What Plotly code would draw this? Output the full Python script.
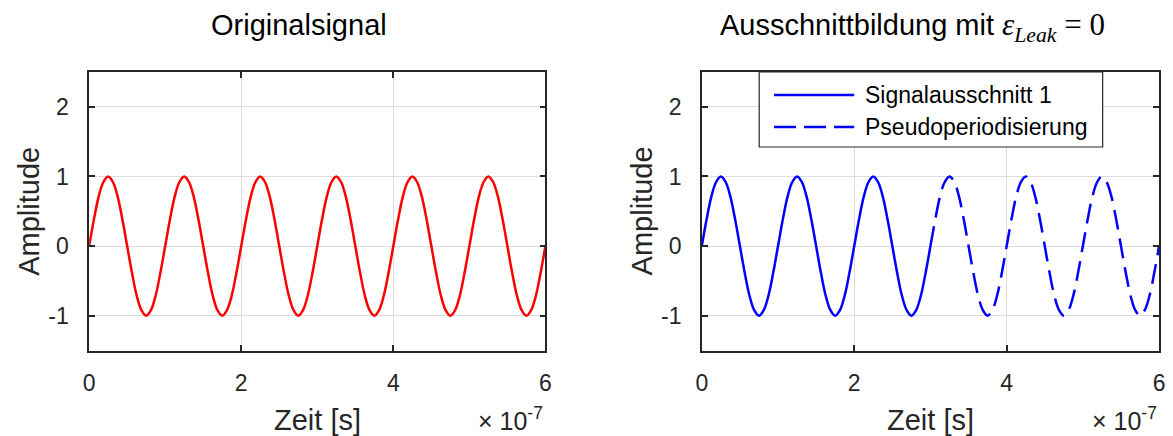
import plotly.graph_objects as go

# Sample grid: 16 samples per period, period = 1e-7 s, 6 periods (time in units of 1e-7 s)
SAMPLE_STEP_E7 = 0.0625
N_SAMPLES = 97
time_e7 = [i * SAMPLE_STEP_E7 for i in range(N_SAMPLES)]

amplitude = [
    0, 0.38, 0.71, 0.92, 1, 0.92, 0.71, 0.38, 0, -0.38, -0.71, -0.92, -1, -0.92, -0.71, -0.38,
    0, 0.38, 0.71, 0.92, 1, 0.92, 0.71, 0.38, 0, -0.38, -0.71, -0.92, -1, -0.92, -0.71, -0.38,
    0, 0.38, 0.71, 0.92, 1, 0.92, 0.71, 0.38, 0, -0.38, -0.71, -0.92, -1, -0.92, -0.71, -0.38,
    0, 0.38, 0.71, 0.92, 1, 0.92, 0.71, 0.38, 0, -0.38, -0.71, -0.92, -1, -0.92, -0.71, -0.38,
    0, 0.38, 0.71, 0.92, 1, 0.92, 0.71, 0.38, 0, -0.38, -0.71, -0.92, -1, -0.92, -0.71, -0.38,
    0, 0.38, 0.71, 0.92, 1, 0.92, 0.71, 0.38, 0, -0.38, -0.71, -0.92, -1, -0.92, -0.71, -0.38,
    0,
]

CUT_INDEX = 48  # sample at t = 3e-7 s, end of the signal window

time_s = [t * 1e-7 for t in time_e7]

x_tickvals = [0, 2e-7, 4e-7, 6e-7]
x_ticktext = ["0", "2", "4", "6"]
y_tickvals = [-1, 0, 1, 2]
y_ticktext = ["-1", "0", "1", "2"]

legend_names = ["Signalausschnitt 1", "Pseudoperiodisierung"]

W, H = 1173, 436
FONT = "Liberation Sans, Arial, sans-serif"
AXIS_COLOR = "#262626"
GRID_COLOR = "#dcdcdc"


def px(x):
    return x / W


def py(y):
    return 1 - y / H


fig = go.Figure()

fig.add_trace(go.Scatter(
    x=time_s, y=amplitude, mode="lines", line=dict(color="#ff0000", width=2.5, shape="spline"),
    xaxis="x", yaxis="y", showlegend=False))

fig.add_trace(go.Scatter(
    x=time_s[:CUT_INDEX + 1], y=amplitude[:CUT_INDEX + 1], mode="lines",
    line=dict(color="#0000ff", width=2.5, shape="spline"),
    xaxis="x2", yaxis="y2", name=legend_names[0], showlegend=False))

fig.add_trace(go.Scatter(
    x=time_s[CUT_INDEX:], y=amplitude[CUT_INDEX:], mode="lines",
    line=dict(color="#0000ff", width=2.5, shape="spline", dash="20px,9px"),
    xaxis="x2", yaxis="y2", name=legend_names[1], showlegend=False))

axis_common = dict(
    showline=True, linecolor=AXIS_COLOR, linewidth=1.5, mirror="allticks",
    ticks="inside", ticklen=6, tickwidth=1.5, tickcolor=AXIS_COLOR,
    showgrid=True, gridcolor=GRID_COLOR, gridwidth=1, zeroline=False,
    tickfont=dict(family=FONT, size=23, color="#262626"),
)

left_dom = [px(84), px(545)]
right_dom = [px(703), px(1165)]
y_dom = [py(350.5), py(72)]

fig.update_layout(
    width=W, height=H,
    margin=dict(l=0, r=0, t=0, b=0),
    paper_bgcolor="white", plot_bgcolor="white",
    font=dict(family=FONT, color="#262626"),
    showlegend=False,
    xaxis=dict(domain=left_dom, range=[0, 6e-7], anchor="y",
               tickvals=x_tickvals, ticktext=x_ticktext, ticklabelstandoff=11, **axis_common),
    yaxis=dict(domain=y_dom, range=[-1.5, 2.5], anchor="x",
               tickvals=y_tickvals, ticktext=y_ticktext, ticklabelstandoff=14, **axis_common),
    xaxis2=dict(domain=right_dom, range=[0, 6e-7], anchor="y2",
                tickvals=x_tickvals, ticktext=x_ticktext, ticklabelstandoff=11, **axis_common),
    yaxis2=dict(domain=y_dom, range=[-1.5, 2.5], anchor="x2",
                tickvals=y_tickvals, ticktext=y_ticktext, ticklabelstandoff=14, **axis_common),
)

annotations = []
label_font = dict(family=FONT, size=29, color="#000000")
math_span = "<span style=\"font-family:'Liberation Serif', serif; font-size:31px\">"

# Titles
annotations.append(dict(text="Originalsignal", x=px(296.5), y=py(25), xref="paper", yref="paper",
                        xanchor="center", yanchor="middle", showarrow=False, font=label_font))
annotations.append(dict(
    text="Ausschnittbildung mit " + math_span + "<i>ε</i><sub><i>Leak</i></sub>&nbsp;=&nbsp;0</span>",
    x=px(916), y=py(27), xref="paper", yref="paper",
    xanchor="center", yanchor="middle", showarrow=False, font=label_font))

for x_center, y_label_x, exp_right in [(314.5, 23, 545), (934, 643, 1165)]:
    annotations.append(dict(text="Zeit [s]", x=px(x_center), y=py(420), xref="paper", yref="paper",
                            xanchor="center", yanchor="middle", showarrow=False,
                            font=dict(family=FONT, size=29, color="#262626")))
    annotations.append(dict(text="Amplitude", x=px(y_label_x), y=py(211), xref="paper", yref="paper",
                            xanchor="center", yanchor="middle", textangle=-90, showarrow=False,
                            font=dict(family=FONT, size=29, color="#262626")))
    annotations.append(dict(text="× 10<sup>-7</sup>", x=px(exp_right), y=py(419), xref="paper", yref="paper",
                            xanchor="right", yanchor="middle", showarrow=False,
                            font=dict(family=FONT, size=25, color="#262626")))

# Legend box for the right panel
shapes = [
    dict(type="rect", xref="paper", yref="paper", x0=px(761), x1=px(1108), y0=py(147), y1=py(72),
         line=dict(color=AXIS_COLOR, width=1.2), fillcolor="white", layer="above"),
    dict(type="line", xref="paper", yref="paper", x0=px(776), x1=px(857), y0=py(95), y1=py(95),
         line=dict(color="#0000ff", width=2.5), layer="above"),
    dict(type="line", xref="paper", yref="paper", x0=px(776), x1=px(857), y0=py(127), y1=py(127),
         line=dict(color="#0000ff", width=2.5, dash="22px,8px"), layer="above"),
]
for name, yc in zip(legend_names, [95, 127]):
    annotations.append(dict(text=name, x=px(866), y=py(yc), xref="paper", yref="paper",
                            xanchor="left", yanchor="middle", showarrow=False,
                            font=dict(family=FONT, size=23, color="#000000")))

fig.update_layout(annotations=annotations, shapes=shapes)

fig.write_html("out.html")
